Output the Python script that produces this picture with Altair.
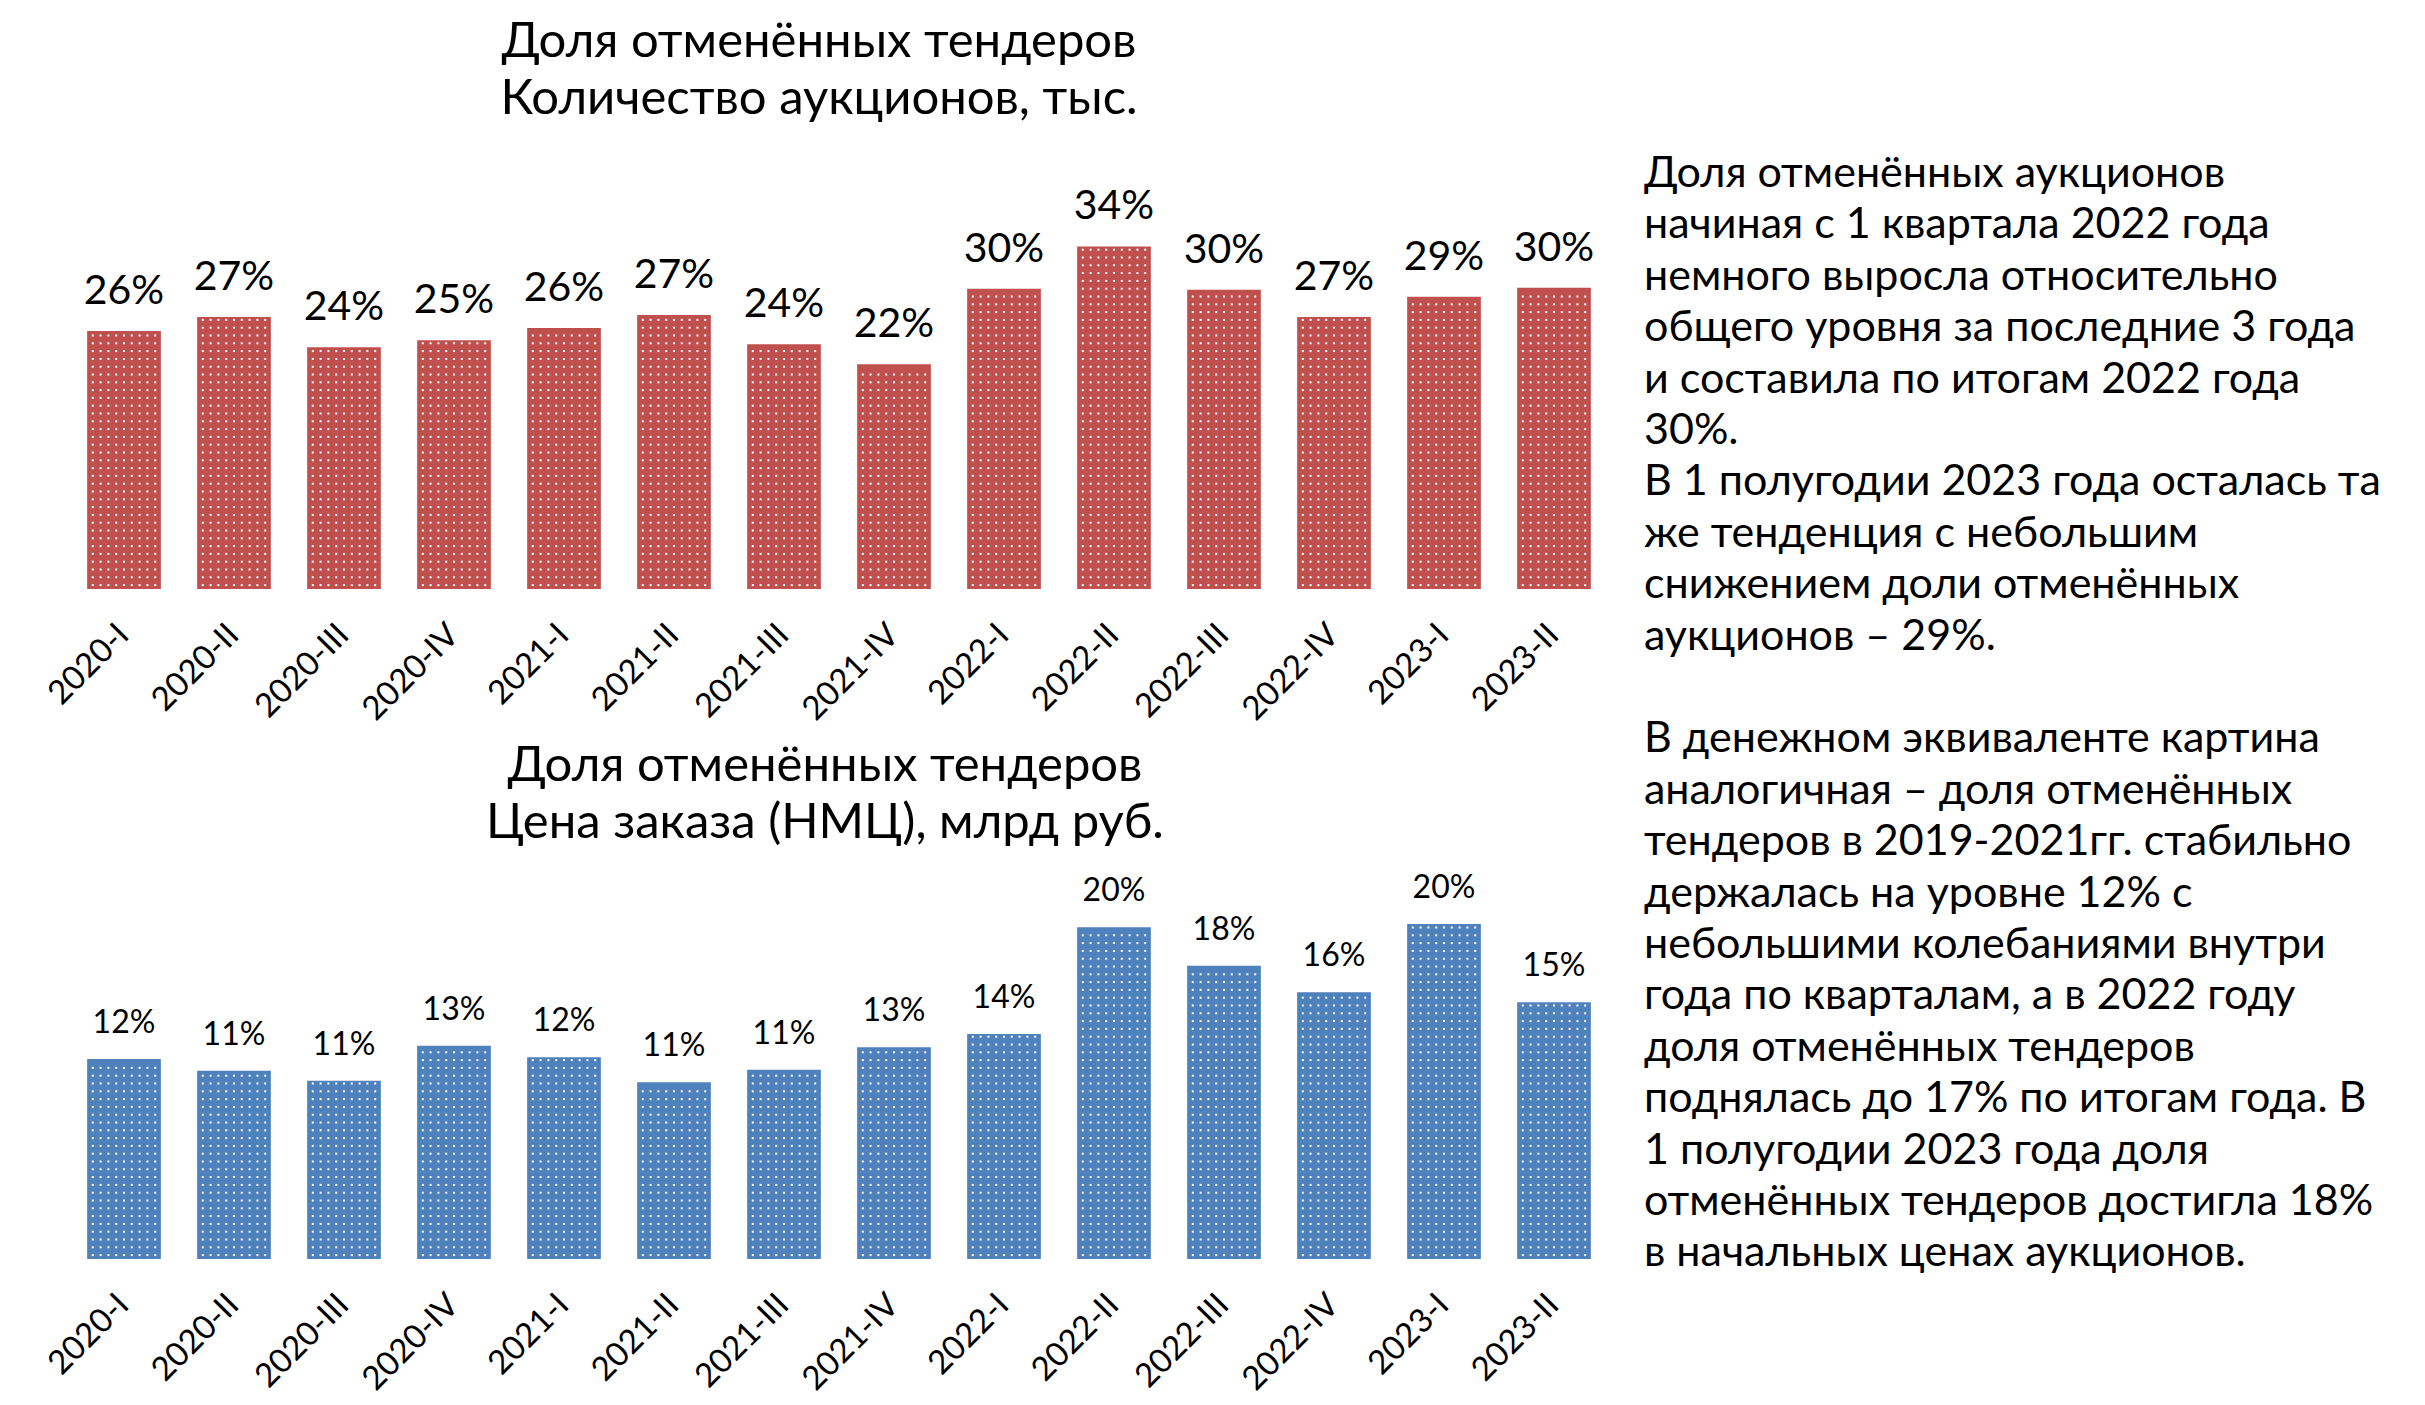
import altair as alt
import pandas as pd

quarters = ["2020-I", "2020-II", "2020-III", "2020-IV", "2021-I", "2021-II", "2021-III",
            "2021-IV", "2022-I", "2022-II", "2022-III", "2022-IV", "2023-I", "2023-II"]

count_values = [25.6, 27.0, 24.0, 24.7, 25.9, 27.2, 24.3, 22.3, 29.8, 34.0, 29.7, 27.0, 29.0, 29.9]
count_labels = ["26%", "27%", "24%", "25%", "26%", "27%", "24%", "22%", "30%", "34%", "30%", "27%", "29%", "30%"]

price_values = [12.0, 11.3, 10.7, 12.8, 12.1, 10.6, 11.35, 12.7, 13.5, 19.9, 17.6, 16.0, 20.1, 15.4]
price_labels = ["12%", "11%", "11%", "13%", "12%", "11%", "11%", "13%", "14%", "20%", "18%", "16%", "20%", "15%"]

count_title = ["Доля отменённых тендеров", "Количество аукционов, тыс."]
price_title = ["Доля отменённых тендеров", "Цена заказа (НМЦ), млрд руб."]

note_para1 = [
    "Доля отменённых аукционов",
    "начиная с 1 квартала 2022 года",
    "немного выросла относительно",
    "общего уровня за последние 3 года",
    "и составила по итогам 2022 года",
    "30%.",
    "В 1 полугодии 2023 года осталась та",
    "же тенденция с небольшим",
    "снижением доли отменённых",
    "аукционов – 29%.",
]
note_para2 = [
    "В денежном эквиваленте картина",
    "аналогичная – доля отменённых",
    "тендеров в 2019-2021гг. стабильно",
    "держалась на уровне 12% с",
    "небольшими колебаниями внутри",
    "года по кварталам, а в 2022 году",
    "доля отменённых тендеров",
    "поднялась до 17% по итогам года. В",
    "1 полугодии 2023 года доля",
    "отменённых тендеров достигла 18%",
    "в начальных ценах аукционов.",
]

FONT = "Lato"
RED = "#C0504D"
BLUE = "#4F81BD"
PLOT_W = 1540
N = len(quarters)
UNIT_PX = PLOT_W / N          # pixels per category slot
HALF_BAR = 0.335              # half bar width in slot units
DOT_PX = 7.8
DOT_COLS = 9
col_step = DOT_PX / UNIT_PX
col_start = -HALF_BAR + (2 * HALF_BAR - (DOT_COLS - 1) * col_step) / 2
NOTE_LH = 51.4

label_expr = "[" + ",".join(f"'{q}'" for q in quarters) + "][datum.value]"


def panel(values, labels, color, title_lines, ymax, height, label_size, label_dy,
          title_offset, title_dx):
    df = pd.DataFrame({"i": list(range(N)), "q": quarters, "v": values, "lab": labels})
    base = alt.Chart(df)
    xscale = alt.Scale(domain=[-0.5, N - 0.5], nice=False, zero=False)
    x_axis = alt.Axis(
        title=None, values=list(range(N)), labelExpr=label_expr, labelAngle=-45,
        labelFontSize=33, labelFont=FONT, labelColor="black", domain=False, ticks=False,
        grid=False, labelPadding=29, labelOffset=-12, labelFlush=False,
        labelOverlap=False, labelBound=False,
    )
    yscale = alt.Scale(domain=[0, ymax], nice=False)
    bars = base.transform_calculate(
        x0=f"datum.i - {HALF_BAR}", x1=f"datum.i + {HALF_BAR}"
    ).mark_bar(color=color).encode(
        x=alt.X("x0:Q", scale=xscale, axis=x_axis),
        x2="x1:Q",
        y=alt.Y("v:Q", scale=yscale, axis=None),
        y2=alt.datum(0),
    )
    step = DOT_PX * ymax / height
    dots = (
        base.transform_calculate(
            ys=f"sequence({step / 2}, datum.v - {step / 3}, {step})",
            cols=f"sequence(0, {DOT_COLS})",
        )
        .transform_flatten(["ys"])
        .transform_flatten(["cols"])
        .transform_calculate(xd=f"datum.i + {col_start} + datum.cols * {col_step}")
        .mark_square(color="white", size=4, opacity=1)
        .encode(x=alt.X("xd:Q"), y=alt.Y("ys:Q"))
    )
    text = base.mark_text(
        font=FONT, fontSize=label_size, color="black", baseline="alphabetic", dy=-label_dy
    ).encode(x=alt.X("i:Q"), y=alt.Y("v:Q"), text="lab:N")
    return alt.layer(bars, dots, text).properties(
        width=PLOT_W,
        height=height,
        title=alt.Title(title_lines, font=FONT, fontSize=49, fontWeight="normal",
                        color="black", lineHeight=57, offset=title_offset,
                        anchor="middle", dx=title_dx),
    )


top = panel(count_values, count_labels, RED, count_title, 40, 403, 41, 27, 62, -20)
bottom = panel(price_values, price_labels, BLUE, price_title, 24, 400, 32, 26, 11, -14)

charts = alt.vconcat(top, bottom, spacing=15)

note_base = alt.Chart(pd.DataFrame({"k": [0]}))
note_style = dict(align="left", baseline="alphabetic", font=FONT, fontSize=43,
                  lineHeight=NOTE_LH, color="black")
note1 = note_base.mark_text(**note_style).encode(
    x=alt.value(0), y=alt.value(1), text=alt.value(note_para1))
note2 = note_base.mark_text(**note_style).encode(
    x=alt.value(0), y=alt.value(1 + (len(note_para1) + 1) * NOTE_LH), text=alt.value(note_para2))
notes = alt.layer(note1, note2).properties(width=760, height=1000)

chart = (
    alt.hconcat(charts, notes, spacing=35)
    .properties(padding={"left": 34, "top": 10, "right": 5, "bottom": 5})
    .configure_view(stroke=None)
)

chart.save("out.html", embed_options={"renderer": "svg", "actions": False})
